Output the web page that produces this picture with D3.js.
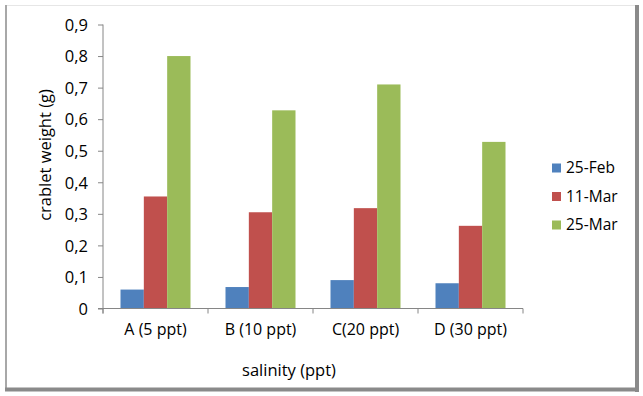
<!DOCTYPE html>
<html>
<head>
<meta charset="utf-8">
<script src="https://cdn.jsdelivr.net/npm/d3@7"></script>
<style>
  body { margin: 0; background: #fff; }
  text { font-family: "Open Sans", "Noto Sans", sans-serif; fill: #000; }
</style>
</head>
<body>
<div id="chart"></div>
<script>
var categories = ["A (5 ppt)", "B (10 ppt)", "C(20 ppt)", "D (30 ppt)"];
var seriesNames = ["25-Feb", "11-Mar", "25-Mar"];
var feb25 = [0.06, 0.068, 0.09, 0.08];
var mar11 = [0.355, 0.305, 0.318, 0.262];
var mar25 = [0.80, 0.628, 0.71, 0.528];
var yTicks = [0, 0.1, 0.2, 0.3, 0.4, 0.5, 0.6, 0.7, 0.8, 0.9];
var colors = ["#4F81BD", "#C0504D", "#9BBB59"];

var width = 643, height = 396;
var plotLeft = 103, plotRight = 523, plotTop = 24.5, plotBottom = 308.5;

var svg = d3.select("#chart").append("svg")
    .attr("width", width)
    .attr("height", height);

// frame
svg.append("line").attr("x1", 6).attr("y1", 5.5).attr("x2", 636).attr("y2", 5.5)
    .attr("stroke", "#e6e6e6").attr("stroke-width", 1);
svg.append("line").attr("x1", 6).attr("y1", 5).attr("x2", 6).attr("y2", 389)
    .attr("stroke", "#a8a8a8").attr("stroke-width", 2);
svg.append("line").attr("x1", 637).attr("y1", 5).attr("x2", 637).attr("y2", 392)
    .attr("stroke", "#8a8a8a").attr("stroke-width", 4);
svg.append("line").attr("x1", 5).attr("y1", 389.5).attr("x2", 639).attr("y2", 389.5)
    .attr("stroke", "#8a8a8a").attr("stroke-width", 4);

var x0 = d3.scaleBand().domain(categories).range([plotLeft, plotRight]);
var y = d3.scaleLinear().domain([0, 0.9]).range([plotBottom, plotTop]);

// group of 3 bars with gap width 150%
var bw = x0.bandwidth() / 4.5;
var groupOffset = bw * 0.75;

var series = [feb25, mar11, mar25];
var rows = [];
series.forEach(function (vals, s) {
    vals.forEach(function (v, i) {
        rows.push({ cat: categories[i], s: s, v: v });
    });
});

svg.selectAll("rect.bar")
    .data(rows)
    .enter().append("rect")
    .attr("class", "bar")
    .attr("x", function (d) { return x0(d.cat) + groupOffset + d.s * bw; })
    .attr("y", function (d) { return y(d.v); })
    .attr("width", bw)
    .attr("height", function (d) { return y(0) - y(d.v); })
    .attr("fill", function (d) { return colors[d.s]; });

// y axis
var yAxis = d3.axisLeft(y).tickValues(yTicks).tickSize(5).tickPadding(10)
    .tickFormat(function (d) { return d === 0 ? "0" : d3.format(".1f")(d).replace(".", ","); });
var gy = svg.append("g").attr("transform", "translate(" + plotLeft + ",0)").call(yAxis);
gy.select(".domain").attr("stroke", "#868686").attr("d", "M0," + plotTop + "V" + (plotBottom + 5));
gy.selectAll(".tick line").attr("stroke", "#868686");
gy.selectAll(".tick text").style("font-size", "16.5px").attr("dy", "0.35em");

// x axis
var gx = svg.append("g").attr("transform", "translate(0," + plotBottom + ")")
    .call(d3.axisBottom(x0).tickSize(0).tickPadding(15));
gx.select(".domain").attr("stroke", "#868686").attr("d", "M" + (plotLeft - 5) + ",0H" + plotRight);
gx.selectAll(".tick text").style("font-size", "16px").attr("dy", "0.71em");
var bounds = categories.map(function (c) { return x0(c); }).concat([plotRight]);
svg.selectAll("line.xt")
    .data(bounds)
    .enter().append("line")
    .attr("class", "xt")
    .attr("x1", function (d) { return d; }).attr("x2", function (d) { return d; })
    .attr("y1", plotBottom).attr("y2", plotBottom + 5)
    .attr("stroke", "#868686");

// axis titles
svg.append("text")
    .attr("x", 289).attr("y", 376)
    .attr("text-anchor", "middle")
    .style("font-size", "16.5px")
    .text("salinity (ppt)");
svg.append("text")
    .attr("transform", "translate(45,155) rotate(-90)")
    .attr("text-anchor", "middle")
    .attr("dy", "0.35em")
    .style("font-size", "16.5px")
    .text("crablet weight (g)");

// legend
var legend = svg.selectAll("g.leg")
    .data(seriesNames)
    .enter().append("g")
    .attr("class", "leg")
    .attr("transform", function (d, i) { return "translate(552," + (168 + i * 28.5) + ")"; });
legend.append("rect").attr("x", 0).attr("y", -4.5).attr("width", 9).attr("height", 9)
    .attr("fill", function (d, i) { return colors[i]; });
legend.append("text").attr("x", 14).attr("dy", "0.35em")
    .style("font-size", "15.5px")
    .text(function (d) { return d; });
</script>
</body>
</html>
